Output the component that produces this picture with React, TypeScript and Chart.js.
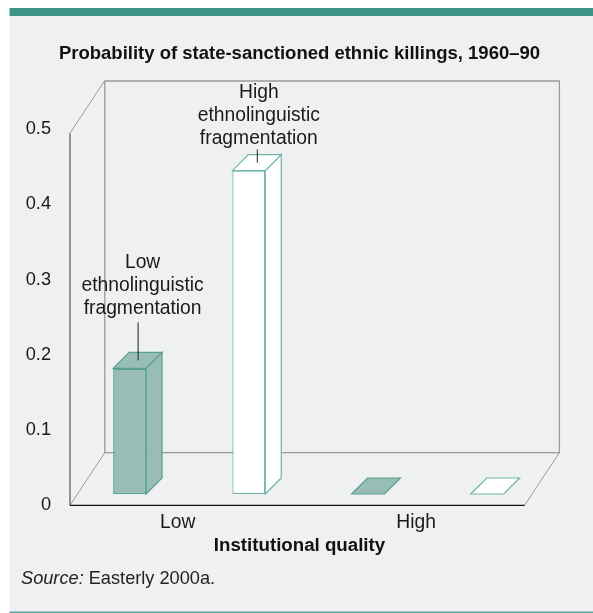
import React, { useEffect, useRef } from "react";
import { Chart, registerables } from "chart.js";

Chart.register(...registerables);

const FONT = '"Liberation Sans", Arial, sans-serif';
const chartTitle = "Probability of state-sanctioned ethnic killings, 1960–90";
const xAxisTitle = "Institutional quality";
const categories = ["Low", "High"];
const lowFragValues = [0.167, 0];
const highFragValues = [0.43, 0];
const lowFragLabel = ["Low", "ethnolinguistic", "fragmentation"];
const highFragLabel = ["High", "ethnolinguistic", "fragmentation"];
const sourceItalic = "Source:";
const sourceRest = " Easterly 2000a.";
const yTicks = [0, 0.1, 0.2, 0.3, 0.4, 0.5];

const TEAL = "#3d9488";
const PANEL = "#eef1f0";
const DEPTH = 16; // bar depth, px
const FLOOR_LIFT = 11.3;

function line(ctx: CanvasRenderingContext2D, pts: number[][], color: string, w: number) {
  ctx.save();
  ctx.strokeStyle = color;
  ctx.lineWidth = w;
  ctx.beginPath();
  pts.forEach((p, i) => (i ? ctx.lineTo(p[0], p[1]) : ctx.moveTo(p[0], p[1])));
  ctx.stroke();
  ctx.restore();
}

function poly(ctx: CanvasRenderingContext2D, pts: number[][], fill: string, stroke: string) {
  ctx.save();
  ctx.fillStyle = fill;
  ctx.strokeStyle = stroke;
  ctx.lineWidth = 1.2;
  ctx.beginPath();
  pts.forEach((p, i) => (i ? ctx.lineTo(p[0], p[1]) : ctx.moveTo(p[0], p[1])));
  ctx.closePath();
  ctx.fill();
  ctx.stroke();
  ctx.restore();
}

const scenePlugin = {
  id: "scene",
  beforeDraw(chart: any) {
    const { ctx, width, height } = chart;
    ctx.save();
    ctx.fillStyle = "#ffffff";
    ctx.fillRect(0, 0, width, height);
    ctx.fillStyle = PANEL;
    ctx.fillRect(9.5, 16, width - 9.5, height - 16);
    ctx.fillStyle = TEAL;
    ctx.fillRect(9.5, 8, width - 9.5, 8);
    ctx.fillStyle = "#5aa89d";
    ctx.fillRect(9.5, 611.5, width - 9.5, 1.5);
    ctx.restore();
  },
  beforeDatasetsDraw(chart: any) {
    const { ctx, chartArea } = chart;
    const l = chartArea.left;
    const b = chartArea.bottom;
    const t = chartArea.top + 4;
    const fr = 524.6;
    const dx = 34.8;
    const dy = 52.7;
    const grey = "#9a9c9b";
    line(ctx, [[l + dx, t - dy + 0.5], [l + dx, b - dy], [fr + dx, b - dy], [fr + dx, t - dy + 0.5], [l + dx, t - dy + 0.5]], grey, 1.3);
    line(ctx, [[l, t], [l + dx, t - dy]], grey, 1);
    line(ctx, [[l, b], [l + dx, b - dy]], grey, 1);
    line(ctx, [[fr, b], [fr + dx, b - dy]], grey, 1);
    line(ctx, [[l, t], [l, b]], "#555555", 1.2);
    line(ctx, [[l, b], [fr, b]], "#111111", 1.2);
  },
  beforeDatasetDraw(chart: any, args: any) {
    const { ctx } = chart;
    const ds = chart.data.datasets[args.index];
    ctx.save();
    ctx.translate(0, -FLOOR_LIFT);
    args.meta.data.forEach((bar: any) => {
      const { x, y, base, width } = bar.getProps(["x", "y", "base", "width"], true);
      const x0 = x - width / 2;
      const x1 = x + width / 2;
      if (y < base - 0.5) {
        poly(ctx, [[x1, y], [x1 + DEPTH, y - DEPTH], [x1 + DEPTH, base - DEPTH], [x1, base]], ds.backgroundColor, ds.borderColor);
      }
      poly(ctx, [[x0, y], [x0 + DEPTH, y - DEPTH], [x1 + DEPTH, y - DEPTH], [x1, y]], ds.backgroundColor, ds.borderColor);
    });
  },
  afterDatasetDraw(chart: any) {
    chart.ctx.restore();
  },
  afterDatasetsDraw(chart: any) {
    const { ctx } = chart;
    chart.data.datasets.forEach((ds: any, i: number) => {
      const bar = chart.getDatasetMeta(i).data[0];
      const topY = bar.y - FLOOR_LIFT;
      ctx.save();
      ctx.fillStyle = "#1a1a1a";
      ctx.textAlign = "center";
      ctx.textBaseline = "middle";
      ctx.font = `19.3px ${FONT}`;
      const lines = ds.callout as string[];
      const lastY = topY - (i === 0 ? 60 : 32);
      lines.forEach((t: string, k: number) => {
        ctx.fillText(t, bar.x + (i === 0 ? 13 : 10), lastY - (lines.length - 1 - k) * 23);
      });
      ctx.restore();
      const lx = bar.x + 8.5;
      line(ctx, [[lx, topY - (i === 0 ? 46 : 21)], [lx, topY - 8]], "#222222", 1);
    });
    ctx.save();
    ctx.fillStyle = "#222222";
    ctx.textBaseline = "middle";
    ctx.font = `italic 18.2px ${FONT}`;
    ctx.fillText(sourceItalic, 21, 579);
    const w = ctx.measureText(sourceItalic).width;
    ctx.font = `18.2px ${FONT}`;
    ctx.fillText(sourceRest, 21 + w, 579);
    ctx.restore();
  },
};

export default function App() {
  const ref = useRef<HTMLCanvasElement | null>(null);
  useEffect(() => {
    const chart = new Chart(ref.current as HTMLCanvasElement, {
      type: "bar",
      data: {
        labels: categories,
        datasets: [
          {
            label: lowFragLabel.join(" "),
            data: lowFragValues,
            backgroundColor: "#97bdb5",
            borderColor: "#5a9f94",
            borderWidth: 1.5,
            borderSkipped: false,
            callout: lowFragLabel,
            clip: false,
          } as any,
          {
            label: highFragLabel.join(" "),
            data: highFragValues,
            backgroundColor: "#ffffff",
            borderColor: "#6db5aa",
            borderWidth: 1.2,
            borderSkipped: false,
            callout: highFragLabel,
            clip: false,
          } as any,
        ],
      },
      options: {
        responsive: false,
        animation: false,
        devicePixelRatio: 1,
        layout: { padding: { left: 6, right: 0, top: 43, bottom: 58 } },
        datasets: { bar: { categoryPercentage: 1, barPercentage: 0.276 } },
        plugins: {
          legend: { display: false },
          tooltip: { enabled: false },
          title: {
            display: true,
            text: chartTitle,
            color: "#111111",
            font: { family: FONT, size: 18.5, weight: "bold", lineHeight: 1.2 },
            padding: { top: 0, bottom: 64 },
          },
          subtitle: {
            display: true,
            position: "bottom",
            text: xAxisTitle,
            color: "#111111",
            font: { family: FONT, size: 18.7, weight: "bold", lineHeight: 1 },
            padding: { top: 0, bottom: 0 },
          },
        } as any,
        scales: {
          x: {
            grid: { display: false, drawTicks: false },
            border: { display: false },
            ticks: {
              color: "#1a1a1a",
              font: { family: FONT, size: 19.3 },
              padding: 6,
              labelOffset: -11.5,
              maxRotation: 0,
              autoSkip: false,
            },
            afterFit(scale: any) {
              scale.height = 31;
            },
          },
          y: {
            min: 0,
            max: 0.5,
            afterBuildTicks(scale: any) {
              scale.ticks = yTicks.map((value) => ({ value }));
            },
            grid: { display: false, drawTicks: false },
            border: { display: false },
            ticks: {
              color: "#1a1a1a",
              font: { family: FONT, size: 18.2 },
              padding: 19,
              callback: (v: any) => (Number(v) === 0 ? "0" : Number(v).toFixed(1)),
            },
            afterFit(scale: any) {
              scale.width = 64;
            },
          },
          rightSpacer: {
            type: "linear",
            position: "right",
            grid: { display: false },
            border: { display: false },
            ticks: { display: false },
            afterFit(scale: any) {
              scale.width = 46.2;
            },
          },
        },
      },
      plugins: [scenePlugin],
    } as any);
    return () => chart.destroy();
  }, []);
  return (
    <div style={{ position: "absolute", left: 0, top: 0, width: 593, height: 613 }}>
      <canvas ref={ref} width={593} height={613} style={{ display: "block" }} />
    </div>
  );
}
